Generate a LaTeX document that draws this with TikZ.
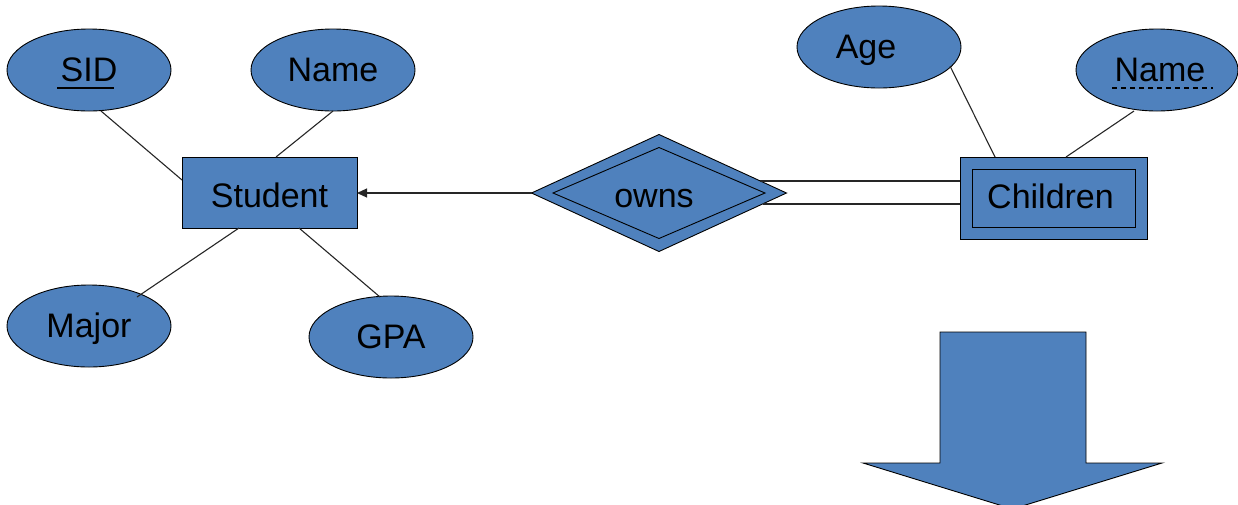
\documentclass[tikz,border=0pt]{standalone}
\usepackage{fontspec}
\setmainfont{Liberation Sans}
\usetikzlibrary{shapes.geometric,calc,arrows.meta}
\definecolor{erblue}{RGB}{79,129,189}
\begin{document}
\begin{tikzpicture}[x=1pt,y=-1pt,
  font=\fontsize{34}{40}\selectfont,
  base/.style={draw=black, fill=erblue, line width=0.9pt, inner sep=0pt, outer sep=0pt, text height=22pt, text depth=0pt},
  attr/.style={base, ellipse, minimum width=164pt, minimum height=82pt},
  ent/.style={base, rectangle},
  conn/.style={line width=1.1pt, draw=black!85}
]
\useasboundingbox (0,0) rectangle (1238,504);
\clip (0,0) rectangle (1238,504);

% Student entity and attributes
\node[ent, minimum width=175pt, minimum height=71pt, text height=29pt] (stu) at (269.5,192.5) {Student};
\node[attr] (sid) at (89,70) {SID};
\node[attr] (nm) at (333,70) {Name};
\node[attr] (maj) at (89,326) {Major};
\node[attr] (gpa) at (391,337) {GPA};

\draw[line width=1.6pt] ($(sid)+(-32,18)$) -- ($(sid)+(25,18)$);

\draw[conn] ($(sid)+(12,41)$) -- ([yshift=12.5pt]stu.west);
\draw[conn] (nm.south) -- ([xshift=6.5pt]stu.north);
\draw[conn] ($(maj)+(48,-29)$) -- ([xshift=-30.5pt]stu.south);
\draw[conn] ($(gpa)+(-11,-40)$) -- ([xshift=29.5pt]stu.south);

% Relationship
\node[base, diamond, minimum width=255pt, minimum height=117pt, aspect=2.18] (owns) at (659,193) {};
\node[base, diamond, fill=none, minimum width=212pt, minimum height=91pt, aspect=2.33, text height=28pt] (ownsin) at (659,193) {\hspace*{-10pt}owns};

% Weak entity Children
\node[ent, minimum width=187pt, minimum height=82pt] (ch) at (1053.5,198) {};
\node[ent, fill=none, minimum width=163pt, minimum height=58pt, text height=20pt] (chin) at (1053.5,198) {\hspace*{-6pt}Children};

\node[attr] (age) at (879,47) {\hspace*{-26pt}Age};
\node[attr, minimum width=162pt] (cnm) at (1157,70) {\hspace*{6pt}Name};
\draw[line width=1.2pt, dash pattern=on 5pt off 4pt] ($(cnm)+(-45,18)$) -- ($(cnm)+(56,18)$);

\draw[conn] ($(age)+(71,19)$) -- ([xshift=-58.5pt]ch.north);
\draw[conn] ($(cnm)+(-23,41)$) -- ([xshift=12.5pt]ch.north);

% Connectors from relationship
\draw[conn, -{Triangle[length=10pt,width=9pt]}] (owns.west) -- (owns.west -| stu.east);
\coordinate (d1) at ($(owns.east)!0.205!(owns.north)$);
\coordinate (d2) at ($(owns.east)!0.188!(owns.south)$);
\draw[conn] (d1) -- (d1 -| ch.west);
\draw[conn] (d2) -- (d2 -| ch.west);

% Big down arrow
\filldraw[fill=erblue, draw=black, line width=0.9pt]
  (940,332) -- (1086,332) -- (1086,463) -- (1162,463) -- (1012.5,509)
  -- (863,463) -- (940,463) -- cycle;
\end{tikzpicture}
\end{document}
